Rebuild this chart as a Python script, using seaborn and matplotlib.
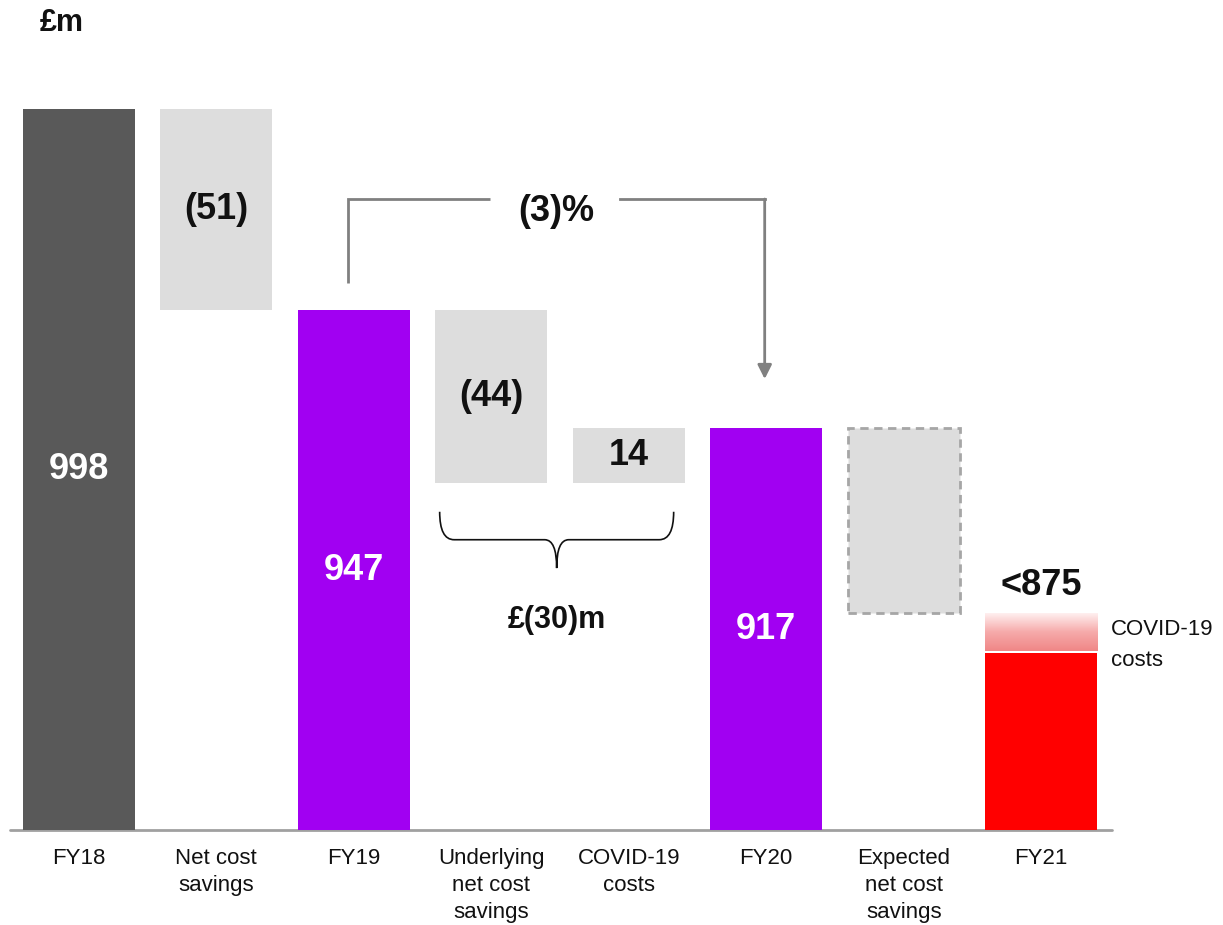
import numpy as np
import pandas as pd
import matplotlib
matplotlib.use("Agg")
import matplotlib.pyplot as plt
from matplotlib.path import Path
from matplotlib.patches import PathPatch
from matplotlib.colors import LinearSegmentedColormap
import seaborn as sns

# ---- data (£m) ----
categories = ["FY18", "Net cost\nsavings", "FY19", "Underlying\nnet cost\nsavings",
              "COVID-19\ncosts", "FY20", "Expected\nnet cost\nsavings", "FY21"]
fy18 = 998
net_cost_savings = -51
underlying_savings = -44
covid_costs = 14
expected_savings = -47
fy21_covid_costs = 10
value_labels = ["998", "(51)", "947", "(44)", "14", "917", "", "<875"]
change_pct_label = "(3)%"
change_abs_label = "£(30)m"

fy19 = fy18 + net_cost_savings
fy20 = fy19 + underlying_savings + covid_costs
fy21 = fy20 + expected_savings

bottoms = [0, fy19, 0, fy19 + underlying_savings, fy19 + underlying_savings, 0, fy21, 0]
tops = [fy18, fy18, fy19, fy19, fy20, fy20, fy20, fy21 - fy21_covid_costs]

colors = ["#595959", "#dddddd", "#a100f2", "#dddddd", "#dddddd", "#a100f2", "#dddddd", "#ff0000"]
df = pd.DataFrame({"category": categories, "bottom": bottoms, "top": tops})

sns.set_theme(style="white")
plt.rcParams["font.family"] = ["Liberation Sans", "DejaVu Sans"]

fig = plt.figure(figsize=(12.23, 9.25), dpi=100)
ax = fig.add_axes([10 / 1223, 95 / 925, 1102 / 1223, 770 / 925])

width = 0.815
sns.barplot(data=df, x="category", y="top", hue="category", palette=colors,
            width=width, saturation=1, legend=False, ax=ax, zorder=2)

# turn the bars into a waterfall: float each one on its bottom value
for patch, b, t in zip(ax.patches, df["bottom"], df["top"]):
    patch.set_y(b)
    patch.set_height(t - b)
    patch.set_linewidth(0)

# projected savings drawn as a dashed outline
dashed = ax.patches[6]
dashed.set_edgecolor("#a6a6a6")
dashed.set_linewidth(2)
dashed.set_linestyle((0, (3, 2)))

ymin, ymax = 815, 1010.5
ax.set_xlim(-0.5, 7.515)
ax.set_ylim(ymin, ymax)

# COVID-19 cost band on top of FY21 as a fading gradient
grad_cmap = LinearSegmentedColormap.from_list("fade", ["#f08686", "#f6aaaa", "#fff0f0"])
grad = np.linspace(0, 1, 256).reshape(-1, 1)
ax.imshow(grad, cmap=grad_cmap, origin="lower", aspect="auto",
          extent=(7 - width / 2, 7 + width / 2, fy21 - fy21_covid_costs + 0.4, fy21), zorder=3)

# baseline
ax.axhline(ymin, color="#a0a0a0", lw=2, zorder=1, xmin=0, xmax=1, clip_on=False)

for s in ax.spines.values():
    s.set_visible(False)
ax.set_yticks([])
ax.set_xlabel("")
ax.set_ylabel("")
ax.tick_params(axis="x", length=0, pad=13, labelsize=16, labelcolor="#111111")
for lbl in ax.get_xticklabels():
    lbl.set_linespacing(1.38)
    lbl.set_verticalalignment("top")

# value labels
white_idx = {0, 2, 5}
for i, (lab, b, t) in enumerate(zip(value_labels, bottoms, tops)):
    if not lab:
        continue
    if i == 7:
        ax.text(i, fy21 + 7, lab, ha="center", va="center", fontsize=26,
                fontweight="bold", color="#111111", zorder=5)
        continue
    y = ((ymin if b == 0 else b) + t) / 2
    ax.text(i, y, lab, ha="center", va="center", fontsize=26, fontweight="bold",
            color="white" if i in white_idx else "#111111", zorder=5)

ax.text(7.51, fy21 - 8, "COVID-19\ncosts", ha="left", va="center", fontsize=16,
        color="#111111", linespacing=1.6)

# elbow connector FY19 -> FY20 with % change
line_kw = dict(color="#808080", lw=2, zorder=4)
yb = 975.2
ax.plot([1.956, 1.956, 2.989], [fy19 + 7, yb, yb], solid_joinstyle="miter",
        solid_capstyle="butt", **line_kw)
ax.plot([3.935, 4.989], [yb, yb], solid_capstyle="projecting", **line_kw)
ax.annotate("", xy=(4.989, fy20 + 12.5), xytext=(4.989, yb),
            arrowprops=dict(arrowstyle="-|>,head_length=0.7,head_width=0.35",
                            color="#808080", lw=2, shrinkA=0, shrinkB=0), zorder=4)
ax.text(3.476, 972, change_pct_label, ha="center", va="center", fontsize=26,
        fontweight="bold", color="#111111", zorder=5)

# curly brace grouping the two FY20 movements
yt, yh, ytip = fy19 + underlying_savings - 7.2, 888.7, 881.5
xl, xr, xc = 2.625, 4.327, 3.476
verts = [(xl, yt), (xl, yh), (xl + 0.105, yh),
         (xc - 0.087, yh),
         (xc, yh), (xc, ytip),
         (xc, yh), (xc + 0.087, yh),
         (xr - 0.105, yh),
         (xr, yh), (xr, yt)]
codes = [Path.MOVETO, Path.CURVE3, Path.CURVE3,
         Path.LINETO,
         Path.CURVE3, Path.CURVE3,
         Path.CURVE3, Path.CURVE3,
         Path.LINETO,
         Path.CURVE3, Path.CURVE3]
ax.add_patch(PathPatch(Path(verts, codes), fill=False, edgecolor="#111111", lw=1.2, zorder=4))
ax.text(xc, 868.2, change_abs_label, ha="center", va="center", fontsize=22,
        fontweight="bold", color="#111111", zorder=5)

fig.text(40 / 1223, 1 - 23 / 925, "£m", ha="left", va="center", fontsize=22,
         fontweight="bold", color="#111111")

fig.savefig("out.png", dpi=100, facecolor="white")
